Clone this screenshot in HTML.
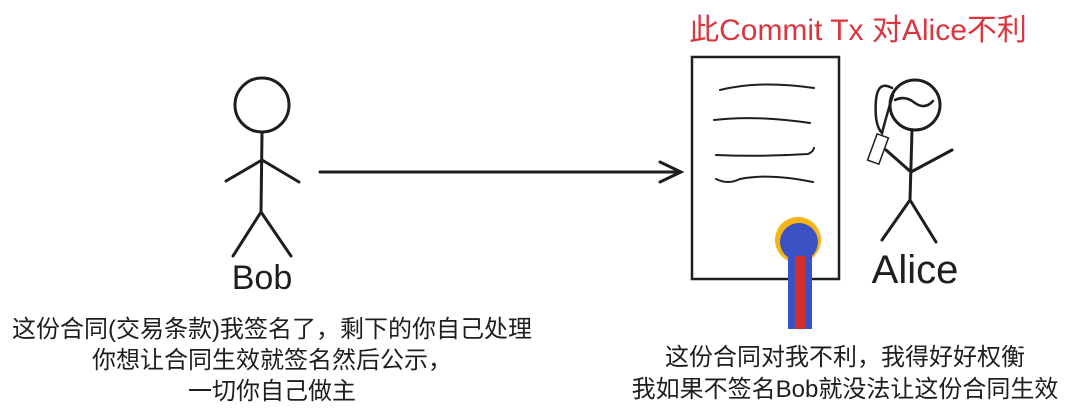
<!DOCTYPE html>
<html><head><meta charset="utf-8"><style>
html,body{margin:0;padding:0;background:#fff;}
body{width:1080px;height:419px;overflow:hidden;position:relative;font-family:"Liberation Sans","Noto Sans CJK SC",sans-serif;}
.t{position:absolute;white-space:nowrap;text-align:center;color:#1e1e1e;}
</style></head><body>
<svg width="1080" height="419" style="position:absolute;left:0;top:0" fill="none" stroke="#1e1e1e" stroke-width="3" stroke-linecap="round">
<circle cx="262" cy="105" r="27"/>
<path d="M262 133 L261 212 M261 212 L233 256 M261 212 L291 256 M262 160 L226 181 M262 160 L299 182"/>
<path d="M320 172 L680 172 M660 162 L681 172 L660 182"/>
<rect x="692" y="57" width="147" height="222" stroke-width="2.5"/>
<g stroke-width="2">
<path d="M720 90 Q760 80 814 88"/>
<path d="M714 120 Q755 115 810 123"/>
<path d="M716 155 Q760 157 808 154 Q813 152 814 148"/>
<path d="M716 179 Q728 185 740 179 Q770 173 813 182"/>
</g>
<circle cx="798" cy="240" r="23" fill="#f4b417" stroke="none"/>
<circle cx="799" cy="242" r="19" fill="#3b52c4" stroke="none"/>
<rect x="788" y="255" width="24" height="74" fill="#3b52c4" stroke="none"/>
<rect x="795" y="256" width="10" height="73" fill="#d2302f" stroke="none"/>
<circle cx="915" cy="105" r="25"/>
<path d="M895 100 Q905 95 915 103 Q925 110 933 101" stroke-width="2.5"/>
<path d="M892 88 Q878 80 876 100 Q874 125 882 133 Q888 110 893 95" stroke-width="2.5"/>
<path d="M912 130 L910 200 M910 200 L882 240 M910 200 L936 242 M911 172 L886 150 M911 172 L952 150"/>
<rect x="872" y="135" width="12" height="28" transform="rotate(20 878 149)" stroke-width="1.5"/>
</svg>
<div class="t" style="left:620px;top:5px;width:476px;font-size:30px;color:#d9363e;">此Commit Tx 对Alice不利</div>
<div class="t" style="left:202px;top:259px;width:120px;font-size:34px;">Bob</div>
<div class="t" style="left:855px;top:248px;width:120px;font-size:40px;">Alice</div>
<div class="t" style="left:0;top:314px;width:544px;font-size:24px;line-height:31px;">这份合同(交易条款)我签名了，剩下的你自己处理<br>你想让合同生效就签名然后公示，<br>一切你自己做主</div>
<div class="t" style="left:600px;top:342px;width:490px;font-size:24px;line-height:32px;">这份合同对我不利，我得好好权衡<br>我如果不签名Bob就没法让这份合同生效</div>
</body></html>
